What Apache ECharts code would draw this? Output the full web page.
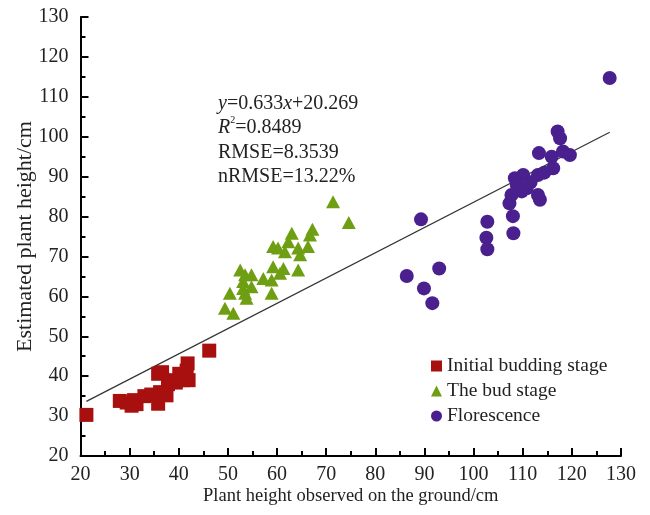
<!DOCTYPE html>
<html>
<head>
<meta charset="utf-8">
<script src="https://cdn.jsdelivr.net/npm/echarts@6/dist/echarts.min.js"></script>
<style>
  html, body { margin: 0; padding: 0; background: #fff; }
  #chart { width: 650px; height: 515px; }
</style>
</head>
<body>
<div id="chart"></div>
<script>
// Ground-observed height (x) vs estimated height (y), cm
const initialBudding = [
  [21.2, 30.3], [28.0, 33.8], [29.4, 33.4], [30.4, 32.6], [31.4, 33.0],
  [30.9, 34.0], [33.0, 35.0], [34.4, 35.4], [35.8, 40.6], [36.6, 41.0],
  [35.8, 33.1], [36.2, 36.0], [37.5, 35.2], [37.8, 38.0], [38.4, 39.0],
  [39.4, 38.4], [40.1, 40.6], [41.0, 39.0], [41.5, 40.0], [41.8, 43.2],
  [42.0, 39.0], [41.6, 41.4], [46.2, 46.4]
];
const budStage = [
  [71.4, 83.7], [74.6, 78.5], [67.2, 76.8], [66.7, 75.4], [63.0, 75.8],
  [62.3, 73.7], [59.2, 72.5], [60.2, 72.1], [61.6, 71.2], [64.3, 72.1],
  [64.7, 70.4], [66.3, 72.5], [59.2, 67.4], [61.3, 67.0], [60.6, 65.8],
  [64.3, 66.6], [52.5, 66.6], [53.5, 65.4], [54.8, 65.4], [57.2, 64.5],
  [58.9, 64.1], [53.1, 63.7], [54.8, 62.4], [53.1, 62.0], [50.4, 60.8],
  [53.5, 60.8], [58.9, 60.8], [53.8, 59.5], [49.4, 57.0], [51.1, 55.8]
];
const florescence = [
  [127.7, 114.7], [117.1, 101.3], [117.6, 99.6], [113.3, 95.9], [115.9, 95.0],
  [118.2, 96.3], [119.6, 95.4], [116.2, 92.1], [113.1, 90.4], [110.1, 90.4],
  [108.4, 89.6], [108.8, 87.9], [110.8, 87.1], [109.8, 86.3], [107.7, 85.4],
  [113.1, 85.4], [113.5, 84.2], [107.3, 83.3], [108.0, 80.1], [102.8, 78.7],
  [89.3, 79.3], [102.6, 74.7], [102.8, 71.8], [108.1, 75.8], [93.0, 67.0],
  [86.4, 65.1], [89.9, 62.0], [91.6, 58.3], [111.6, 88.6], [114.4, 91.0]
];

// Fitted line y = slope * x + intercept over the observed range
const slope = 0.633;
const intercept = 20.269;
const fitRange = [21.2, 127.7];
const fitLine = fitRange.map(x => [x, slope * x + intercept]);

const axisTicks = { min: 20, max: 130, interval: 10 };
const seriesNames = ['Initial budding stage', 'The bud stage', 'Florescence'];
const statLines = ['0.633', '20.269', '0.8489', '8.3539', '13.22%'];

const serif = '"Liberation Serif", "DejaVu Serif", serif';

const axisCommon = {
  type: 'value',
  min: axisTicks.min,
  max: axisTicks.max,
  interval: axisTicks.interval,
  axisLine: { show: true, lineStyle: { color: '#000', width: 2 } },
  axisTick: { show: true, inside: true, length: 8, lineStyle: { color: '#000', width: 2 } },
  minorTick: { show: true, splitNumber: 2, length: 5, lineStyle: { color: '#000', width: 2 } },
  splitLine: { show: false },
  axisLabel: { color: '#222', fontFamily: serif, fontSize: 20 },
  nameLocation: 'middle',
  nameMoveOverlap: false,
  nameTextStyle: { color: '#222', fontFamily: serif, fontSize: 18.5 }
};

const chart = echarts.init(document.getElementById('chart'), null, { renderer: 'canvas' });

chart.setOption({
  animation: false,
  backgroundColor: '#fff',
  grid: { left: 80.5, right: 29, top: 17, bottom: 59, outerBoundsMode: 'none', containLabel: false },
  xAxis: Object.assign({}, axisCommon, {
    name: 'Plant height observed on the ground/cm',
    nameGap: 31,
    axisLabel: Object.assign({}, axisCommon.axisLabel, { margin: 9 })
  }),
  yAxis: Object.assign({}, axisCommon, {
    name: 'Estimated plant height/cm',
    nameGap: 44,
    nameTextStyle: Object.assign({}, axisCommon.nameTextStyle, { fontSize: 22 }),
    axisLabel: Object.assign({}, axisCommon.axisLabel, { margin: 12 })
  }),
  legend: {
    orient: 'vertical',
    left: 426,
    top: 351,
    itemWidth: 11,
    itemHeight: 11,
    itemGap: 5,
    textStyle: { color: '#222', fontFamily: serif, fontSize: 19.5, lineHeight: 20 },
    data: seriesNames
  },
  graphic: [{
    type: 'text',
    left: 218,
    top: 91,
    style: {
      text: [
        '{i|y}=' + statLines[0] + '{i|x}+' + statLines[1],
        '{i|R}{sup|2}=' + statLines[2],
        'RMSE=' + statLines[3],
        'nRMSE=' + statLines[4]
      ].join('\n'),
      font: '20px ' + serif,
      fill: '#222',
      lineHeight: 24.5,
      rich: {
        i: { fontStyle: 'italic', fontFamily: serif, fontSize: 20, fill: '#222', lineHeight: 24.5 },
        sup: { fontFamily: serif, fontSize: 10, verticalAlign: 'top', padding: [0, 0, 9, 0], fill: '#222', lineHeight: 24.5 }
      }
    }
  }],
  series: [
    {
      name: 'fit',
      type: 'line',
      data: fitLine,
      symbol: 'none',
      silent: true,
      lineStyle: { color: '#333', width: 1.2 },
      z: 1
    },
    {
      name: seriesNames[0],
      type: 'scatter',
      data: initialBudding,
      symbol: 'rect',
      symbolSize: 14,
      itemStyle: { color: '#A80F0F', opacity: 1 },
      z: 3
    },
    {
      name: seriesNames[1],
      type: 'scatter',
      data: budStage,
      symbol: 'triangle',
      symbolSize: [14, 13],
      itemStyle: { color: '#6E9E12', opacity: 1 },
      z: 3
    },
    {
      name: seriesNames[2],
      type: 'scatter',
      data: florescence,
      symbol: 'circle',
      symbolSize: 14,
      itemStyle: { color: '#4A1F8E', opacity: 1 },
      z: 3
    }
  ]
});
</script>
</body>
</html>
